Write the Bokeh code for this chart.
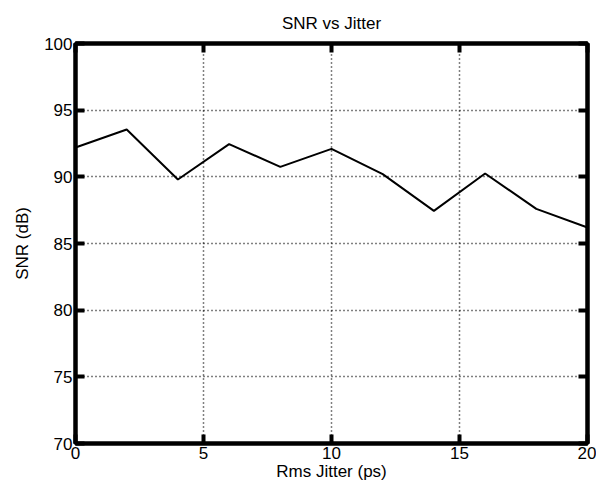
from bokeh.plotting import figure
from bokeh.models import LinearAxis, FixedTicker, Range1d
from bokeh.embed import file_html
from bokeh.resources import INLINE

# SNR measured against RMS clock jitter
jitter_ps = [0, 2, 4, 6, 8, 10, 12, 14, 16, 18, 20]
snr_db = [92.2, 93.55, 89.8, 92.45, 90.75, 92.1, 90.2, 87.45, 90.25, 87.6, 86.2]

x_ticks = [0, 5, 10, 15, 20]
y_ticks = [70, 75, 80, 85, 90, 95, 100]

FONT = "Liberation Sans"
FS = "17px"

p = figure(
    width=596, height=490,
    x_range=Range1d(0, 20), y_range=Range1d(70, 100),
    output_backend="svg", toolbar_location=None,
    min_border_left=75, min_border_right=9,
    min_border_top=43, min_border_bottom=47,
    title="SNR vs Jitter",
)
p.background_fill_color = "white"
p.border_fill_color = "white"
p.outline_line_color = "black"
p.outline_line_width = 4

p.title.align = "center"
p.title.text_font = FONT
p.title.text_font_size = FS
p.title.text_font_style = "normal"
p.title.text_color = "black"
p.title.standoff = 22

p.line(jitter_ps, snr_db, line_color="black", line_width=2)


def style_axis(ax, ticks, show_labels):
    ax.ticker = FixedTicker(ticks=ticks)
    ax.axis_line_color = "black"
    ax.axis_line_width = 4
    ax.major_tick_in = 9
    ax.major_tick_out = 0
    ax.major_tick_line_width = 4
    ax.major_tick_line_color = "black"
    ax.minor_tick_line_color = None
    ax.major_label_text_font = FONT
    ax.major_label_text_font_size = FS
    ax.major_label_text_color = "black"
    ax.major_label_standoff = 3
    if not show_labels:
        ax.major_label_overrides = {t: "" for t in ticks}
        ax.major_label_standoff = 0
    ax.axis_label_text_font = FONT
    ax.axis_label_text_font_size = FS
    ax.axis_label_text_font_style = "normal"
    ax.axis_label_text_color = "black"


p.xaxis.axis_label = "Rms Jitter (ps)"
p.yaxis.axis_label = "SNR (dB)"
p.xaxis.axis_label_standoff = 0
p.yaxis.axis_label_standoff = 9
style_axis(p.xaxis[0], x_ticks, True)
style_axis(p.yaxis[0], y_ticks, True)

# tick marks on the top and right edges of the box
top = LinearAxis()
right = LinearAxis()
p.add_layout(top, "above")
p.add_layout(right, "right")
style_axis(top, x_ticks, False)
style_axis(right, y_ticks, False)

for g, ticks in ((p.xgrid[0], x_ticks), (p.ygrid[0], y_ticks)):
    g.ticker = FixedTicker(ticks=ticks)
    g.grid_line_color = "black"
    g.grid_line_dash = "1 3"
    g.grid_line_width = 1.5

open("out.html", "w").write(file_html(p, INLINE))
